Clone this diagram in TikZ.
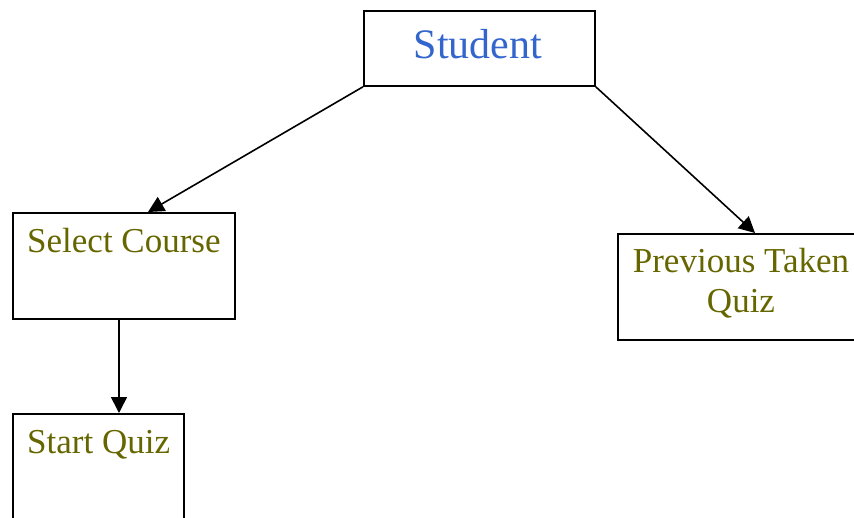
\documentclass[tikz,border=0pt]{standalone}
\usepackage{fontspec}
\setmainfont{Liberation Serif}
\usetikzlibrary{arrows.meta,calc}
\definecolor{stublue}{RGB}{51,102,204}
\definecolor{olivetext}{RGB}{102,102,0}
\begin{document}
\begin{tikzpicture}[x=1pt,y=-1pt,
  box/.style={draw=black, line width=1.8pt, inner sep=0pt, anchor=north west},
  lbl/.style={inner sep=0pt, font=\fontsize{35}{40}\selectfont, text=olivetext},
  conn/.style={draw=black, line width=1.6pt, -{Triangle[length=16pt,width=16pt]}}]
\useasboundingbox (0,0) rectangle (854,517);
% boxes
\node[box, minimum width=231pt, minimum height=75pt] (stu) at (363,10) {};
\node[box, minimum width=222pt, minimum height=106pt] (sel) at (12,212) {};
\node[box, minimum width=248pt, minimum height=106pt] (prev) at (617,233) {};
\node[box, minimum width=171pt, minimum height=130pt] (start) at (12,413) {};
% texts
\node[inner sep=0pt, font=\fontsize{42}{48}\selectfont, text=stublue, anchor=base] (stut) at (478,58) {Student};
\node[lbl, anchor=base west] (selt) at (27,252) {Select Course};
\node[lbl, anchor=base, align=center] (prevt) at (741,312) {Previous Taken\\Quiz};
\node[lbl, anchor=base west] (startt) at (27,453) {Start Quiz};
% connectors
\draw[conn] (stu.south west) -- ($(sel.north west)+(136,0)$);
\draw[conn] (stu.south east) -- ($(prev.north west)+(138,0)$);
\draw[conn] ($(sel.south west)+(107,0)$) -- ($(start.north west)+(107,0)$);
\end{tikzpicture}
\end{document}
